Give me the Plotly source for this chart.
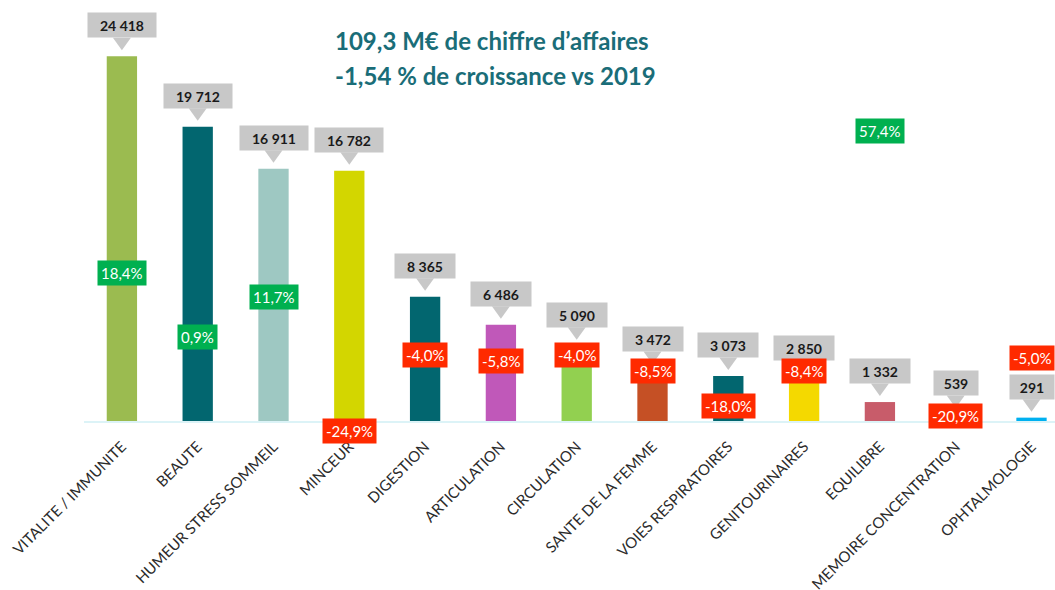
import plotly.graph_objects as go

categories = ["VITALITE / IMMUNITE", "BEAUTE", "HUMEUR STRESS SOMMEIL", "MINCEUR",
              "DIGESTION", "ARTICULATION", "CIRCULATION", "SANTE DE LA FEMME",
              "VOIES RESPIRATOIRES", "GENITOURINAIRES", "EQUILIBRE",
              "MEMOIRE CONCENTRATION", "OPHTALMOLOGIE"]
sales = [24418, 19712, 16911, 16782, 8365, 6486, 5090, 3472, 3073, 2850, 1332, 539, 291]
growth = [18.4, 0.9, 11.7, -24.9, -4.0, -5.8, -4.0, -8.5, -18.0, -8.4, 57.4, -20.9, -5.0]
bar_colors = ["#9bbb50", "#02666f", "#9ec8c2", "#d3d600", "#02666f", "#c058b9",
              "#92d050", "#c55025", "#02666f", "#f4d900", "#c85c6a", "#8064a2", "#00b0f0"]
title_lines = ["109,3 M€ de chiffre d’affaires", "-1,54 % de croissance vs 2019"]

FONT = "Lato"
fig = go.Figure()
fig.add_trace(go.Bar(x=categories, y=sales, marker=dict(color=bar_colors, line=dict(width=0)),
                     width=0.4, hoverinfo="skip", showlegend=False))
fig.add_trace(go.Scatter(x=categories, y=growth, yaxis="y2", mode="markers",
                         marker=dict(opacity=0), hoverinfo="skip", showlegend=False))

def fmt_num(v):
    return f"{v:,}".replace(",", " ")

def fmt_pct(g):
    return f"{g:.1f}%".replace(".", ",")

annotations = []
shapes = []
for i, (c, v) in enumerate(zip(categories, sales)):
    txt = fmt_num(v)
    annotations.append(dict(x=c, y=v, xref="x", yref="y", text=f"<b>{txt}</b>",
                            showarrow=False, yanchor="bottom", yshift=18,
                            bgcolor="#c8c8c8", borderpad=3, width=8 * len(txt) + 14, height=18,
                            font=dict(family=FONT, size=14, color="#1a1a1a")))
    shapes.append(dict(type="path", xref="x", yref="y", xsizemode="pixel", ysizemode="pixel",
                       xanchor=i, yanchor=v, path="M -9,18.5 L 9,18.5 L 0,6 Z",
                       fillcolor="#c8c8c8", line=dict(width=0), layer="above"))

for c, g in zip(categories, growth):
    annotations.append(dict(x=c, y=g, xref="x", yref="y2", text=fmt_pct(g), showarrow=False,
                            bgcolor="#00b050" if g > 0 else "#ff2a00", borderpad=3,
                            font=dict(family=FONT, size=15, color="white")))

for line, yp in zip(title_lines, [0.911, 0.833]):
    annotations.append(dict(x=0.2564, y=yp, xref="paper", yref="paper", text=f"<b>{line}</b>",
                            showarrow=False, xanchor="left", yanchor="middle",
                            font=dict(family=FONT, size=24, color="#1a6d78")))

fig.update_layout(
    width=1055, height=590,
    margin=dict(l=84, r=0, t=0, b=140),
    paper_bgcolor="white", plot_bgcolor="white",
    bargap=0.6,
    xaxis=dict(range=[-0.5, 12.31], tickangle=-45, automargin=False,
               anchor="free", position=28 / 450,
               showline=True, linecolor="#dcf3f7", linewidth=2, showgrid=False,
               ticks="", ticklabelstandoff=9,
               tickfont=dict(family=FONT, size=15, color="#2b2b2b")),
    yaxis=dict(range=[-1869.5, 28177], visible=False, showgrid=False, zeroline=False),
    yaxis2=dict(range=[-30.22, 93.41], overlaying="y", visible=False, showgrid=False, zeroline=False),
    annotations=annotations,
    shapes=shapes,
)

fig.write_html("out.html", config={"displayModeBar": False},
               post_script="document.body.style.margin='0';")
